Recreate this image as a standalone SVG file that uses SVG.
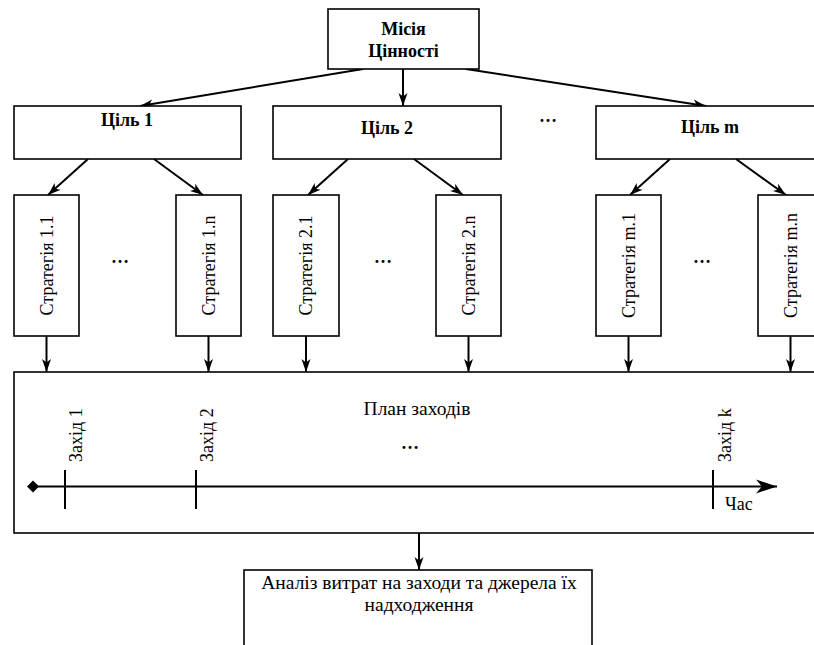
<svg xmlns="http://www.w3.org/2000/svg" width="814" height="645" viewBox="0 0 814 645">
<style>
  .box { fill: #fff; stroke: #000; stroke-width: 1.6; }
  .t { font-family: "Liberation Serif", "Times New Roman", serif; font-size: 18px; fill: #000; }
  .big { font-size: 19.5px; }
  .b { font-weight: bold; }
  .c { text-anchor: middle; }
  .ln { stroke: #000; stroke-width: 2; fill: none; }
  .arr { stroke: #000; stroke-width: 2; fill: none; marker-end: url(#ah); }
</style>
<defs>
  <marker id="ah" markerUnits="userSpaceOnUse" markerWidth="14" markerHeight="10" refX="13" refY="5" orient="auto">
    <path d="M0,0.5 L13,5 L0,9.5 L3.5,5 z" fill="#000"/>
  </marker>
  <marker id="ahbig" markerUnits="userSpaceOnUse" markerWidth="22" markerHeight="16" refX="21" refY="8" orient="auto">
    <path d="M0,1 L21,8 L0,15 L6,8 z" fill="#000"/>
  </marker>
</defs>
<rect width="814" height="645" fill="#fff"/>

<g id="connectors">
  <line class="arr" x1="363" y1="69" x2="140" y2="106"/>
  <line class="arr" x1="403" y1="69" x2="403" y2="106"/>
  <line class="arr" x1="466" y1="69" x2="706" y2="106"/>
  <line class="arr" x1="88" y1="159" x2="48" y2="195"/>
  <line class="arr" x1="154" y1="159" x2="203" y2="195"/>
  <line class="arr" x1="348" y1="159" x2="308" y2="195"/>
  <line class="arr" x1="414" y1="159" x2="463" y2="195"/>
  <line class="arr" x1="670" y1="159" x2="630" y2="195"/>
  <line class="arr" x1="736" y1="159" x2="786" y2="195"/>
  <line class="arr" x1="46.5" y1="336" x2="46.5" y2="372"/>
  <line class="arr" x1="208.5" y1="336" x2="208.5" y2="372"/>
  <line class="arr" x1="306" y1="336" x2="306" y2="372"/>
  <line class="arr" x1="468.5" y1="336" x2="468.5" y2="372"/>
  <line class="arr" x1="628.5" y1="336" x2="628.5" y2="372"/>
  <line class="arr" x1="790.5" y1="336" x2="790.5" y2="372"/>
  <line class="arr" x1="419" y1="533" x2="419" y2="570"/>
</g>

<g id="mission">
  <rect class="box" x="328" y="9" width="151" height="60"/>
  <text class="t b c" x="403.5" y="35">Місія</text>
  <text class="t b c" x="403.5" y="57">Цінності</text>
</g>

<g id="goal1">
  <rect class="box" x="14" y="106" width="227" height="53"/>
  <text class="t b c" x="127" y="126">Ціль 1</text>
</g>
<g id="goal2">
  <rect class="box" x="273" y="106" width="228" height="53"/>
  <text class="t b c" x="387" y="134">Ціль 2</text>
</g>
<text class="t b c" x="548" y="122">…</text>
<g id="goalm">
  <rect class="box" x="596" y="106" width="228" height="53"/>
  <text class="t b c" x="710" y="133">Ціль m</text>
</g>

<g id="s11">
  <rect class="box" x="14" y="195" width="65" height="141"/>
  <text class="t c" transform="translate(52.5,265.5) rotate(-90)">Стратегія 1.1</text>
</g>
<g id="s1n">
  <rect class="box" x="176" y="195" width="65" height="141"/>
  <text class="t c" transform="translate(214.5,265.5) rotate(-90)">Стратегія 1.n</text>
</g>
<g id="s21">
  <rect class="box" x="273" y="195" width="66" height="141"/>
  <text class="t c" transform="translate(312,265.5) rotate(-90)">Стратегія 2.1</text>
</g>
<g id="s2n">
  <rect class="box" x="436" y="195" width="65" height="141"/>
  <text class="t c" transform="translate(474.5,265.5) rotate(-90)">Стратегія 2.n</text>
</g>
<g id="sm1">
  <rect class="box" x="596" y="195" width="65" height="141"/>
  <text class="t c" transform="translate(634.5,265.5) rotate(-90)">Стратегія m.1</text>
</g>
<g id="smn">
  <rect class="box" x="758" y="195" width="65" height="141"/>
  <text class="t c" transform="translate(796.5,265.5) rotate(-90)">Стратегія m.n</text>
</g>
<text class="t b c" x="120" y="263">…</text>
<text class="t b c" x="383" y="263">…</text>
<text class="t b c" x="702" y="263">…</text>

<g id="plan">
  <rect class="box" x="14" y="372" width="810" height="161"/>
  <text class="t big c" x="417" y="415">План заходів</text>
  <text class="t b c" x="410" y="449">…</text>
  <line class="ln" x1="33" y1="486.5" x2="777" y2="486.5" marker-end="url(#ahbig)"/>
  <path d="M27,486.5 L33,480.5 L39,486.5 L33,492.5 z" fill="#000"/>
  <line class="ln" x1="65" y1="470" x2="65" y2="509" stroke-width="1.6"/>
  <line class="ln" x1="196" y1="470" x2="196" y2="509" stroke-width="1.6"/>
  <line class="ln" x1="713" y1="470" x2="713" y2="509" stroke-width="1.6"/>
  <text class="t" transform="translate(82,462) rotate(-90)">Захід 1</text>
  <text class="t" transform="translate(213,462) rotate(-90)">Захід 2</text>
  <text class="t" transform="translate(731,462) rotate(-90)">Захід k</text>
  <text class="t" x="725" y="510">Час</text>
</g>

<g id="analysis">
  <rect class="box" x="244" y="570" width="348" height="90"/>
  <text class="t big c" x="419" y="589">Аналіз витрат на заходи та джерела їх</text>
  <text class="t big c" x="419" y="611">надходження</text>
</g>
</svg>
